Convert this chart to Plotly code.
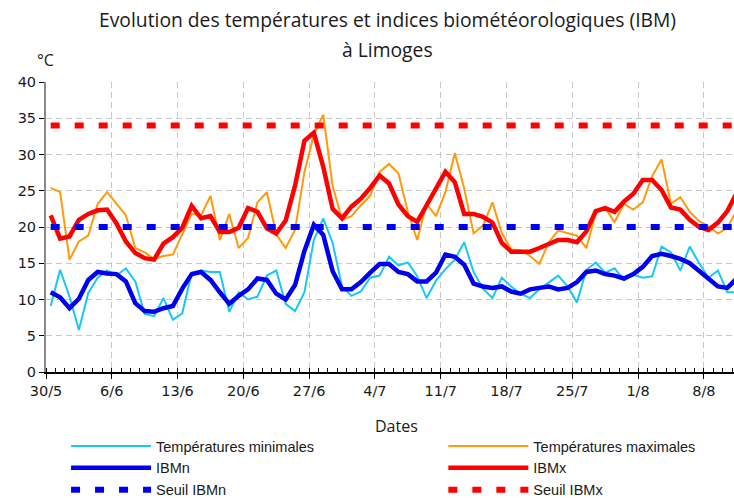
import pandas as pd
import plotly.graph_objects as go

START = "2019-05-30"
N_DAYS = 74
DATES = pd.date_range(START + " 12:00", periods=N_DAYS, freq="D")

T_MIN = [9.1, 14.1, 10.4, 5.8, 10.9, 13.0, 14.0, 13.3, 14.3, 12.5,
         8.0, 7.7, 10.2, 7.2, 8.1, 13.7, 14.0, 13.8, 13.8, 8.3,
         11.0, 10.0, 10.4, 13.3, 14.0, 9.4, 8.4, 11.0, 18.2, 21.2,
         17.8, 11.8, 10.5, 11.1, 13.0, 13.3, 15.9, 14.7, 15.1, 13.2,
         10.2, 12.6, 14.2, 15.5, 17.9, 13.8, 11.5, 10.2, 13.0, 11.8,
         10.8, 10.2, 11.4, 12.3, 13.3, 11.8, 9.6, 14.1, 15.1, 13.7,
         14.3, 12.7, 13.4, 13.0, 13.2, 17.3, 16.5, 14.0, 17.3, 15.0,
         13.0, 14.0, 11.0, 11.0]

T_MAX = [25.4, 24.8, 15.5, 18.0, 18.8, 23.2, 24.8, 23.2, 21.6, 17.1,
         16.5, 15.6, 16.0, 16.2, 19.0, 21.8, 21.6, 24.3, 18.2, 21.8,
         17.1, 18.5, 23.4, 24.8, 19.0, 17.1, 19.6, 27.6, 32.7, 35.5,
         25.7, 21.0, 21.5, 23.0, 24.3, 27.6, 28.7, 27.4, 22.1, 18.2,
         23.2, 21.5, 24.8, 30.2, 25.3, 19.1, 20.2, 23.4, 19.2, 16.9,
         16.8, 16.0, 14.9, 17.9, 19.5, 19.1, 18.8, 17.1, 21.9, 22.6,
         20.7, 23.2, 22.4, 23.4, 27.0, 29.3, 23.2, 24.1, 22.1, 20.8,
         20.1, 19.1, 19.9, 22.3]

IBM_N = [11.0, 10.3, 8.8, 10.1, 12.7, 13.8, 13.6, 13.5, 12.5, 9.5,
         8.4, 8.3, 8.8, 9.1, 11.5, 13.5, 13.8, 12.7, 11.0, 9.4,
         10.5, 11.4, 12.9, 12.7, 10.8, 10.0, 12.0, 16.7, 20.3, 18.9,
         13.9, 11.4, 11.4, 12.4, 13.7, 14.9, 14.9, 13.8, 13.5, 12.5,
         12.5, 13.7, 16.2, 15.9, 14.8, 12.2, 11.8, 11.6, 11.8, 11.1,
         10.8, 11.4, 11.6, 11.8, 11.4, 11.6, 12.4, 13.8, 14.0, 13.5,
         13.3, 12.9, 13.5, 14.5, 16.0, 16.3, 16.0, 15.6, 15.0, 13.9,
         12.7, 11.8, 11.6, 12.9]

IBM_X = [21.6, 18.4, 18.7, 21.0, 21.8, 22.3, 22.4, 20.5, 18.0, 16.4,
         15.7, 15.5, 17.7, 18.6, 19.9, 22.9, 21.2, 21.5, 19.3, 19.3,
         19.9, 22.6, 22.1, 19.8, 19.1, 20.9, 25.7, 31.9, 33.0, 28.3,
         22.5, 21.2, 22.8, 23.9, 25.4, 27.1, 26.0, 23.1, 21.5, 20.7,
         23.0, 25.2, 27.6, 26.2, 21.8, 21.8, 21.4, 20.6, 17.8, 16.6,
         16.6, 16.6, 17.1, 17.7, 18.2, 18.2, 17.9, 19.4, 22.2, 22.6,
         22.1, 23.5, 24.6, 26.5, 26.5, 25.1, 22.7, 22.4, 21.0, 20.0,
         19.6, 20.6, 22.2, 24.7]

SEUIL_IBMN = 20
SEUIL_IBMX = 34

Y_TICKS = [0, 5, 10, 15, 20, 25, 30, 35, 40]

NAMES = ["Températures minimales", "Températures maximales",
         "IBMn", "IBMx", "Seuil IBMn", "Seuil IBMx"]

TXT = "#1a1a1a"
LEG_FONT = dict(family="Liberation Sans, Arial, sans-serif", size=14.5, color=TXT)

fig = go.Figure()
fig.add_trace(go.Scatter(x=DATES, y=T_MIN, mode="lines", name=NAMES[0],
                         line=dict(color="#17c8f5", width=2), legend="legend"))
fig.add_trace(go.Scatter(x=DATES, y=T_MAX, mode="lines", name=NAMES[1],
                         line=dict(color="#ff9a0a", width=2), legend="legend2"))
fig.add_trace(go.Scatter(x=DATES, y=IBM_N, mode="lines", name=NAMES[2],
                         line=dict(color="#0000f0", width=4.5), legend="legend"))
fig.add_trace(go.Scatter(x=DATES, y=IBM_X, mode="lines", name=NAMES[3],
                         line=dict(color="#ff0000", width=4.5), legend="legend2"))
fig.add_trace(go.Scatter(x=[DATES[0], DATES[-1]], y=[SEUIL_IBMN, SEUIL_IBMN],
                         mode="lines", name=NAMES[4],
                         line=dict(color="#0000f0", width=6, dash="9px,15px"),
                         legend="legend"))
fig.add_trace(go.Scatter(x=[DATES[0], DATES[-1]], y=[SEUIL_IBMX, SEUIL_IBMX],
                         mode="lines", name=NAMES[5],
                         line=dict(color="#ff0000", width=6, dash="9px,15px"),
                         legend="legend2"))

DAY_MS = 86400000
fig.update_xaxes(
    type="date",
    range=["2019-05-30 00:00", "2019-08-11 05:00"],
    tick0=START, dtick=7 * DAY_MS, tickformat="%-d/%-m",
    ticks="outside", ticklen=5, tickwidth=1, tickcolor="#000",
    showline=True, linecolor="#000", linewidth=1.5,
    showgrid=True, gridcolor="#c8c8c8", griddash="6px,4px", gridwidth=1,
    minor=dict(dtick=DAY_MS, tick0=START, ticks="inside", ticklen=4,
               tickcolor="#000", tickwidth=1, showgrid=False),
    tickfont=dict(family="DejaVu Sans, Verdana, sans-serif", size=14.5, color=TXT),
    zeroline=False, fixedrange=True,
)
fig.update_yaxes(
    range=[0, 40], tickvals=Y_TICKS,
    ticks="outside", ticklen=5, tickcolor="#000",
    showline=True, linecolor="#8a8a8a", linewidth=2,
    showgrid=True, gridcolor="#c8c8c8", griddash="6px,4px", gridwidth=1,
    tickfont=dict(family="DejaVu Sans, Verdana, sans-serif", size=14.5, color=TXT),
    zeroline=False, fixedrange=True,
)

TITLE_FONT = dict(family="Open Sans, Noto Sans, sans-serif", size=19.3, color=TXT)
fig.add_annotation(text="Evolution des températures et indices biométéorologiques (IBM)",
                   xref="paper", yref="paper", x=0.496, y=1.215,
                   xanchor="center", yanchor="middle", showarrow=False, font=TITLE_FONT)
fig.add_annotation(text="à Limoges", xref="paper", yref="paper", x=0.496, y=1.111,
                   xanchor="center", yanchor="middle", showarrow=False, font=TITLE_FONT)
fig.add_annotation(text="°C", xref="paper", yref="paper", x=-0.001, y=1.075,
                   xanchor="center", yanchor="middle", showarrow=False,
                   font=dict(family="Open Sans, Noto Sans, sans-serif", size=16, color=TXT))
fig.add_annotation(text="Dates", xref="paper", yref="paper", x=0.509, y=-0.185,
                   xanchor="center", yanchor="middle", showarrow=False,
                   font=dict(family="Open Sans, Noto Sans, sans-serif", size=16, color=TXT))

fig.update_layout(
    width=734, height=498,
    margin=dict(l=46, r=0, t=82, b=126, autoexpand=False),
    paper_bgcolor="white", plot_bgcolor="white",
    showlegend=True,
    legend=dict(xref="container", yref="container", x=0.09, y=0.1365,
                xanchor="left", yanchor="top",
                orientation="v", itemwidth=80, font=LEG_FONT,
                bgcolor="rgba(0,0,0,0)", tracegroupgap=0, traceorder="normal"),
    legend2=dict(xref="container", yref="container", x=0.604, y=0.1365,
                 xanchor="left", yanchor="top",
                 orientation="v", itemwidth=80, font=LEG_FONT,
                 bgcolor="rgba(0,0,0,0)", tracegroupgap=0, traceorder="normal"),
)

fig.write_html(
    "out.html",
    config={"displayModeBar": False},
    post_script="document.body.style.margin='0';document.body.style.overflow='hidden';",
)
